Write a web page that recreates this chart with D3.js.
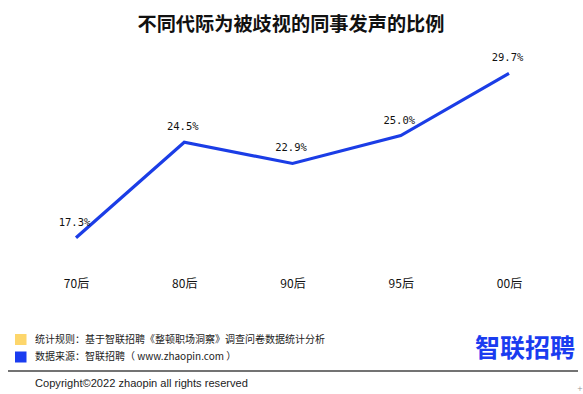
<!DOCTYPE html>
<html>
<head>
<meta charset="utf-8">
<script src="https://cdn.jsdelivr.net/npm/d3@7"></script>
<style>
  body { margin: 0; background: #fff; }
  svg { display: block; }
</style>
</head>
<body>
<div id="chart"></div>
<script>
const categories = ["70后", "80后", "90后", "95后", "00后"];
const values = [17.3, 24.5, 22.9, 25.0, 29.7];
const valueLabels = ["17.3%", "24.5%", "22.9%", "25.0%", "29.7%"];
const title = "不同代际为被歧视的同事发声的比例";
const note1 = "统计规则：基于智联招聘《整顿职场洞察》调查问卷数据统计分析";
const note2 = "数据来源：智联招聘（ www.zhaopin.com ）";
const copyright = "Copyright©2022 zhaopin all rights reserved";
const logoText = "智联招聘";

const W = 583, H = 394;
const svg = d3.select("#chart").append("svg").attr("width", W).attr("height", H);

const blue = "#1b3de6";
const x = d3.scalePoint().domain(categories).range([76, 509]);
const y = d3.scaleLinear().domain([0, 30]).range([467.1, 69.3]);

// Title
svg.append("text").attr("x", 291).attr("y", 31)
  .attr("text-anchor", "middle")
  .attr("font-family", "'Noto Sans CJK SC', sans-serif")
  .attr("font-weight", "bold").attr("font-size", 19.2).attr("fill", "#111")
  .text(title);

// Line
const line = d3.line().x((d, i) => x(categories[i])).y(d => y(d));
svg.append("path").datum(values)
  .attr("d", line).attr("fill", "none")
  .attr("stroke", blue).attr("stroke-width", 3.2)
  .attr("stroke-linejoin", "miter");

// Value labels
svg.selectAll("text.val").data(values).enter().append("text")
  .attr("class", "val")
  .attr("x", (d, i) => x(categories[i]) - 1.5)
  .attr("y", d => y(d) - 12)
  .attr("text-anchor", "middle")
  .attr("font-family", "'DejaVu Sans Mono', monospace")
  .attr("font-size", 10.5).attr("fill", "#111")
  .text((d, i) => valueLabels[i]);

// Category axis labels (no axis line)
const xAxis = d3.axisBottom(x).tickSize(0).tickPadding(0);
const gx = svg.append("g").attr("transform", "translate(0,280)").call(xAxis);
gx.select(".domain").remove();
gx.selectAll("text")
  .attr("font-family", "'Noto Sans CJK SC', sans-serif")
  .attr("font-size", 12).attr("fill", "#111").attr("dy", "0.7em");

// Footer notes
svg.append("rect").attr("x", 15).attr("y", 334).attr("width", 11.5).attr("height", 11).attr("fill", "#fdd66b");
svg.append("rect").attr("x", 15).attr("y", 351.5).attr("width", 11.5).attr("height", 11).attr("fill", "#1a3cf0");
svg.append("text").attr("x", 35).attr("y", 343)
  .attr("font-family", "'Noto Sans CJK SC', sans-serif").attr("font-size", 10).attr("fill", "#222")
  .text(note1);
svg.append("text").attr("x", 35).attr("y", 360)
  .attr("font-family", "'Noto Sans CJK SC', sans-serif").attr("font-size", 10).attr("fill", "#222")
  .text(note2);

// Logo
svg.append("text").attr("x", 575).attr("y", 357)
  .attr("text-anchor", "end")
  .attr("font-family", "'Noto Sans CJK SC', sans-serif")
  .attr("font-weight", "bold").attr("font-size", 25).attr("fill", "#1a3cf0")
  .text(logoText);

// Divider
svg.append("line").attr("x1", 8).attr("x2", 578).attr("y1", 371).attr("y2", 371)
  .attr("stroke", "#444").attr("stroke-width", 1.3);

// Copyright
svg.append("text").attr("x", 35).attr("y", 386.5)
  .attr("font-family", "'Liberation Sans', Arial, sans-serif").attr("font-size", 11.1).attr("fill", "#222")
  .text(copyright);

svg.append("text").attr("x", 580).attr("y", 391)
  .attr("text-anchor", "middle")
  .attr("font-family", "'DejaVu Sans', sans-serif").attr("font-size", 7).attr("fill", "#999")
  .text("+");
</script>
</body>
</html>
